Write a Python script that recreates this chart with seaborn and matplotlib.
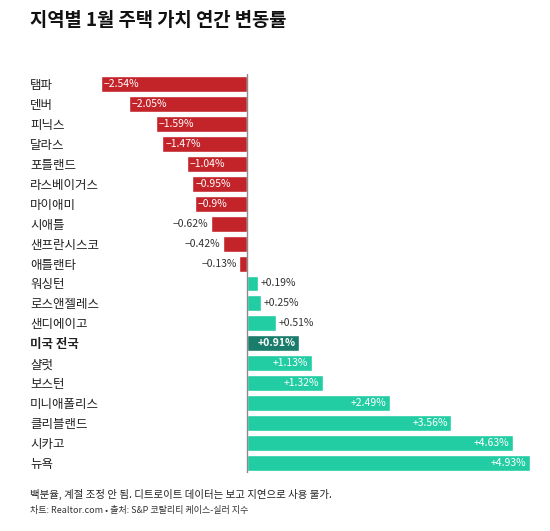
import matplotlib
matplotlib.use('Agg')
import matplotlib.pyplot as plt
import seaborn as sns

cities = ['탬파', '덴버', '피닉스', '달라스', '포틀랜드', '라스베이거스', '마이애미', '시애틀',
          '샌프란시스코', '애틀랜타', '워싱턴', '로스앤젤레스', '샌디에이고', '미국 전국',
          '샬럿', '보스턴', '미니애폴리스', '클리블랜드', '시카고', '뉴욕']
changes = [-2.54, -2.05, -1.59, -1.47, -1.04, -0.95, -0.9, -0.62, -0.42, -0.13,
           0.19, 0.25, 0.51, 0.91, 1.13, 1.32, 2.49, 3.56, 4.63, 4.93]
value_labels = ['−2.54%', '−2.05%', '−1.59%', '−1.47%', '−1.04%', '−0.95%', '−0.9%',
                '−0.62%', '−0.42%', '−0.13%', '+0.19%', '+0.25%', '+0.51%', '+0.91%',
                '+1.13%', '+1.32%', '+2.49%', '+3.56%', '+4.63%', '+4.93%']
national = '미국 전국'

red = '#c3242a'
teal = '#22cda3'
dark_teal = '#1a7d6c'
colors = [dark_teal if c == national else (red if v < 0 else teal) for c, v in zip(cities, changes)]

sns.set_style('white')
plt.rcParams['font.family'] = ['Noto Sans CJK KR', 'DejaVu Sans']

fig = plt.figure(figsize=(5.5, 5.31), dpi=100)
ax = fig.add_axes([0.1836, 0.1092, 0.78, 0.7514])

sns.barplot(x=changes, y=cities, hue=cities, palette=colors, legend=False,
            orient='h', width=0.8, saturation=1, ax=ax)

ax.set_xlim(-2.54, 4.93)
ax.set_ylim(len(cities) - 0.5, -0.5)
ax.axvline(0, color='#8a8a8a', lw=1)

for s in ax.spines.values():
    s.set_visible(False)
ax.set_xticks([])
ax.set_xlabel('')
ax.set_ylabel('')
ax.tick_params(axis='y', length=0, pad=51)
for lbl in ax.get_yticklabels():
    lbl.set_ha('left')
    lbl.set_fontsize(9)
    lbl.set_color('#222222')
    if lbl.get_text() == national:
        lbl.set_fontweight('bold')

# value labels: inside the bar when it is wide enough, otherwise just outside
for i, (v, t) in enumerate(zip(changes, value_labels)):
    if v < 0:
        if v <= -0.9:
            ax.text(v + 0.05, i, t, ha='left', va='center', color='white', fontsize=7.5)
        else:
            ax.text(v - 0.05, i, t, ha='right', va='center', color='#333333', fontsize=7.5)
    else:
        if v < 0.9:
            ax.text(v + 0.05, i, t, ha='left', va='center', color='#333333', fontsize=7.5)
        else:
            bold = 'bold' if cities[i] == national else 'normal'
            ax.text(v - 0.06, i, t, ha='right', va='center', color='white', fontsize=7.5,
                    fontweight=bold)

fig.text(30 / 550, 1 - 20 / 531, '지역별 1월 주택 가치 연간 변동률', fontsize=13.5,
         fontweight='bold', ha='left', va='center', color='#111111')
fig.text(30 / 550, 1 - 494 / 531, '백분율, 계절 조정 안 됨. 디트로이트 데이터는 보고 지연으로 사용 불가.',
         fontsize=7.5, style='italic', ha='left', va='center', color='#222222')
fig.text(30 / 550, 1 - 511 / 531, '차트: Realtor.com • 출처: S&P 코탈리티 케이스-실러 지수',
         fontsize=6.5, ha='left', va='center', color='#333333')

fig.savefig('out.png', dpi=100)
